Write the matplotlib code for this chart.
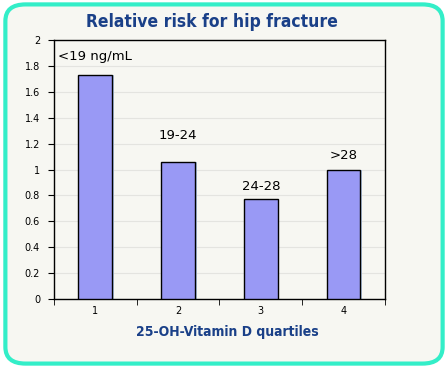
import matplotlib.pyplot as plt
from matplotlib.patches import FancyBboxPatch

quartiles = [1, 2, 3, 4]
risk = [1.73, 1.06, 0.77, 1.0]
bar_labels = ["<19 ng/mL", "19-24", "24-28", ">28"]
label_y = [1.87, 1.26, 0.87, 1.11]
yticks = [0, 0.2, 0.4, 0.6, 0.8, 1, 1.2, 1.4, 1.6, 1.8, 2]

fig = plt.figure(figsize=(4.48, 3.68), dpi=100, facecolor='white')

# rounded teal frame
frame = FancyBboxPatch((0.012, 0.012), 0.976, 0.976, boxstyle="round,pad=0,rounding_size=0.045",
                       transform=fig.transFigure, facecolor='#f7f7f2', edgecolor='#33eec8',
                       linewidth=3, zorder=-1)
fig.patches.append(frame)

ax = fig.add_axes([0.1205, 0.1875, 0.7385, 0.7035])
ax.set_zorder(2)
ax.set_facecolor('#f7f7f2')

# faint shadow on the right of each bar
ax.bar([q + 0.02 for q in quartiles], risk, width=0.41, color='#b0c4de', zorder=2)
ax.bar(quartiles, risk, width=0.41, color='#9999f5', edgecolor='black', linewidth=1, zorder=3)

for q, lab, y in zip(quartiles, bar_labels, label_y):
    ax.text(q, y, lab, ha='center', va='center', fontsize=9.5, color='black')

ax.set_xlim(0.5, 4.5)
ax.set_ylim(0, 2)
ax.set_yticks(yticks)
ax.set_yticklabels([f"{v:g}" for v in yticks], fontsize=7)
ax.set_xticks(quartiles)
ax.set_xticklabels([str(q) for q in quartiles], fontsize=7)
ax.set_xticks([0.5, 1.5, 2.5, 3.5, 4.5], minor=True)
ax.tick_params(axis='x', which='major', length=0, pad=5)
ax.tick_params(axis='x', which='minor', length=4, direction='out')
ax.tick_params(axis='y', length=4, direction='out', pad=6)
ax.yaxis.grid(True, color='#e4e4e0', linewidth=0.8, zorder=0)
ax.set_axisbelow(True)
for s in ax.spines.values():
    s.set_linewidth(1)

fig.text(0.473, 0.94, "Relative risk for hip fracture", ha='center', va='center',
         fontsize=12.5, fontweight='bold', fontstretch='condensed', color='#1a4088')
fig.text(0.508, 0.098, "25-OH-Vitamin D quartiles", ha='center', va='center',
         fontsize=10, fontweight='bold', fontstretch='condensed', color='#1a4088')

fig.savefig('out.png', dpi=100, facecolor='white')
